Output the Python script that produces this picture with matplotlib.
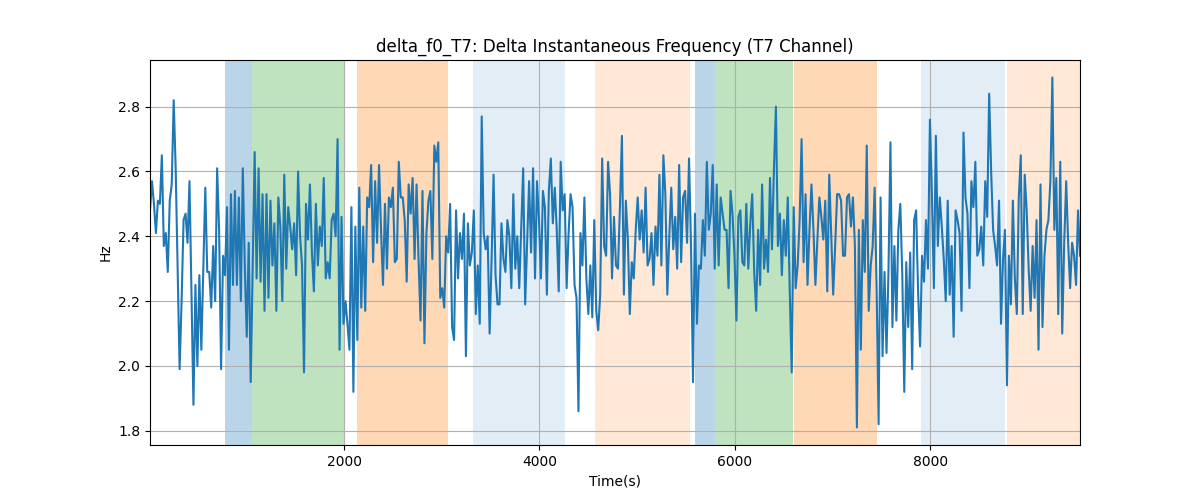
import numpy as np
import matplotlib
matplotlib.use("Agg")
import matplotlib.pyplot as plt

t_start, t_end = 15, 9530

seg1 = [2.48, 2.57, 2.50, 2.41, 2.51, 2.50, 2.65, 2.37, 2.41, 2.29, 2.51, 2.56, 2.82, 2.61, 2.30, 1.99, 2.20, 2.45, 2.47, 2.38,
        2.57, 2.22, 1.88, 2.25, 2.00, 2.28, 2.05, 2.30, 2.55, 2.29, 2.29, 2.18, 2.37, 2.20, 2.61, 2.42, 1.99, 2.34, 2.28, 2.49,
        2.05, 2.53, 2.25, 2.54, 2.25, 2.52, 2.20, 2.61, 2.31, 2.09, 2.38, 1.95, 2.30, 2.66, 2.27, 2.61, 2.26, 2.53, 2.17]
seg2 = [2.53, 2.21, 2.51, 2.31, 2.44, 2.17, 2.52, 2.43, 2.20, 2.59, 2.30, 2.49, 2.43, 2.36, 2.44, 2.28, 2.60, 2.40, 2.31, 1.98,
        2.50, 2.39, 2.56, 2.35, 2.23, 2.50, 2.31, 2.43, 2.37, 2.58, 2.27, 2.32, 2.27, 2.45, 2.47, 2.40, 2.70, 2.05, 2.46, 2.13,
        2.20, 2.13, 2.05, 2.49, 1.92, 2.43, 2.08, 2.55, 2.18, 2.43, 2.17, 2.52, 2.49, 2.62, 2.32, 2.57, 2.38, 2.62, 2.42]
seg3 = [2.25, 2.50, 2.30, 2.52, 2.49, 2.55, 2.32, 2.33, 2.63, 2.52, 2.52, 2.45, 2.26, 2.56, 2.47, 2.58, 2.33, 2.56, 2.33, 2.14,
        2.54, 2.07, 2.41, 2.51, 2.54, 2.33, 2.68, 2.63, 2.69, 2.21, 2.24, 2.18, 2.40, 2.35, 2.50, 2.12, 2.08, 2.48, 2.27, 2.41,
        2.33, 2.47, 2.03, 2.44, 2.31, 2.35, 2.48, 2.16, 2.31, 2.13, 2.77, 2.41, 2.36, 2.40, 2.10, 2.33, 2.59, 2.28, 2.19]
seg4 = [2.19, 2.44, 2.33, 2.29, 2.45, 2.40, 2.24, 2.53, 2.30, 2.40, 2.24, 2.43, 2.61, 2.19, 2.38, 2.57, 2.35, 2.61, 2.27, 2.57,
        2.45, 2.27, 2.54, 2.49, 2.22, 2.54, 2.64, 2.44, 2.55, 2.42, 2.23, 2.63, 2.48, 2.53, 2.24, 2.41, 2.53, 2.49, 2.25, 2.21,
        1.86, 2.41, 2.31, 2.52, 2.27, 2.16, 2.31, 2.15, 2.45, 2.17, 2.11, 2.22, 2.64, 2.37, 2.34, 2.63, 2.53, 2.27, 2.46]
seg5 = [2.31, 2.30, 2.49, 2.71, 2.22, 2.51, 2.39, 2.16, 2.32, 2.27, 2.42, 2.52, 2.39, 2.48, 2.35, 2.55, 2.31, 2.33, 2.41, 2.25,
        2.43, 2.34, 2.59, 2.31, 2.65, 2.53, 2.22, 2.40, 2.55, 2.36, 2.46, 2.30, 2.62, 2.32, 2.52, 2.54, 2.38, 2.64, 2.37, 1.95,
        2.47, 2.13, 2.31, 2.30, 2.45, 2.34, 2.63, 2.42, 2.47, 2.62, 2.30, 2.56, 2.31, 2.52, 2.47, 2.42, 2.42, 2.24, 2.54]
seg6 = [2.47, 2.34, 2.14, 2.46, 2.48, 2.32, 2.31, 2.50, 2.30, 2.44, 2.53, 2.29, 2.17, 2.42, 2.25, 2.56, 2.30, 2.39, 2.29, 2.58,
        2.36, 2.61, 2.80, 2.37, 2.47, 2.28, 2.45, 2.34, 2.52, 2.23, 1.98, 2.49, 2.24, 2.31, 2.45, 2.70, 2.32, 2.53, 2.25, 2.42,
        2.56, 2.42, 2.25, 2.39, 2.52, 2.46, 2.39, 2.51, 2.23, 2.59, 2.40, 2.22, 2.37, 2.53, 2.53, 2.51, 2.34, 2.34, 2.52]
seg7 = [2.53, 2.43, 2.52, 2.37, 1.81, 2.42, 2.05, 2.45, 2.29, 2.68, 2.17, 2.31, 2.37, 2.55, 2.24, 1.82, 2.52, 2.03, 2.29, 2.04,
        2.29, 2.69, 2.12, 2.37, 2.14, 2.42, 2.50, 2.28, 1.92, 2.32, 2.12, 2.35, 1.99, 2.45, 2.48, 2.23, 2.06, 2.34, 2.26, 2.45,
        2.30, 2.76, 2.53, 2.24, 2.71, 2.37, 2.52, 2.43, 2.33, 2.20, 2.51, 2.22, 2.37, 2.09, 2.48, 2.45, 2.41, 2.17, 2.72]
seg8 = [2.52, 2.47, 2.24, 2.57, 2.49, 2.63, 2.34, 2.36, 2.43, 2.31, 2.57, 2.46, 2.84, 2.60, 2.42, 2.37, 2.31, 2.51, 2.13, 2.33,
        2.42, 1.94, 2.34, 2.19, 2.51, 2.27, 2.16, 2.52, 2.65, 2.16, 2.59, 2.48, 2.30, 2.17, 2.37, 2.21, 2.45, 2.05, 2.56, 2.12,
        2.34, 2.42, 2.45, 2.57, 2.89, 2.42, 2.58, 2.16, 2.63, 2.10, 2.38, 2.57, 2.38, 2.24, 2.38, 2.34, 2.25, 2.48, 2.34]

values = np.array(seg1 + seg2 + seg3 + seg4 + seg5 + seg6 + seg7 + seg8)
times = np.linspace(t_start, t_end, len(values))

# shaded intervals (start, end, colour, alpha)
span_starts = [783, 1056, 2136, 3320, 4571, 5591, 5799, 6604, 7903, 8782]
span_ends   = [1056, 1995, 3061, 4258, 5540, 5799, 6590, 7449, 8762, 9530]
span_colors = ["tab:blue", "tab:green", "tab:orange", "tab:blue", "tab:orange",
               "tab:blue", "tab:green", "tab:orange", "tab:blue", "tab:orange"]
span_alphas = [0.3, 0.3, 0.3, 0.13, 0.17, 0.3, 0.3, 0.3, 0.13, 0.17]

fig, ax = plt.subplots(figsize=(12, 5), dpi=100)
for s, e, c, a in zip(span_starts, span_ends, span_colors, span_alphas):
    ax.axvspan(s, e, color=c, alpha=a, linewidth=0)
ax.plot(times, values, color="tab:blue", linewidth=1.5)
ax.set_xlim(times.min(), times.max())
ax.grid(True)
ax.set_title("delta_f0_T7: Delta Instantaneous Frequency (T7 Channel)")
ax.set_xlabel("Time(s)")
ax.set_ylabel("Hz")
fig.savefig("out.png")
